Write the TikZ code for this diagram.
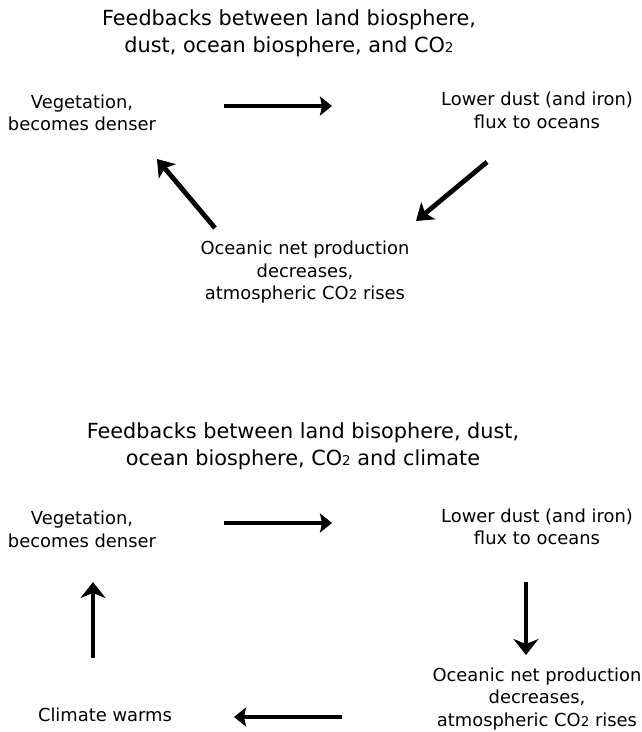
\documentclass[tikz,border=0pt]{standalone}
\usepackage{fontspec}
\setmainfont{DejaVu Sans}
\usetikzlibrary{arrows.meta}
\newcommand\cotwo{CO{\fontsize{13.5}{13.5}\selectfont 2}}
\tikzset{
  ttl/.style={align=center, inner sep=0pt, font=\fontsize{20.8}{27}\selectfont},
  lbl/.style={align=center, inner sep=0pt, font=\fontsize{17.9}{22.5}\selectfont},
  harr/.style={line width=4.8pt, -{Stealth[length=12pt,width=19pt,inset=2pt]}},
  darr/.style={line width=4.8pt, -{Stealth[length=16pt,width=22pt,inset=4pt]}},
  varr/.style={line width=4.8pt, -{Stealth[length=16pt,width=25pt,inset=5pt]}},
}
\begin{document}
\begin{tikzpicture}[x=1pt,y=-1pt]
\useasboundingbox (0,0) rectangle (641,732);
% top diagram
\node[ttl] (t1) at (289,33.5) {Feedbacks between land biosphere,\\dust, ocean biosphere, and \cotwo};
\node[lbl] (veg1) at (82,113) {Vegetation,\\becomes denser};
\node[lbl] (dust1) at (537,110.5) {Lower dust (and iron)\\flux to oceans};
\node[lbl] (oce1) at (305,272.5) {Oceanic net production\\decreases,\\atmospheric \cotwo\ rises};
\coordinate (a1s) at (224,106); \coordinate (a1e) at (332,106);
\coordinate (a2s) at (487,162); \coordinate (a2e) at (416,221);
\coordinate (a3s) at (215,228); \coordinate (a3e) at (157,159);
\draw[harr] (a1s) -- (a1e);
\draw[darr] (a2s) -- (a2e);
\draw[darr] (a3s) -- (a3e);
% bottom diagram
\node[ttl] (t2) at (303,446.5) {Feedbacks between land bisophere, dust,\\ocean biosphere, \cotwo\ and climate};
\node[lbl] (veg2) at (82,529.5) {Vegetation,\\becomes denser};
\node[lbl] (dust2) at (537,527) {Lower dust (and iron)\\flux to oceans};
\node[lbl] (oce2) at (537,699) {Oceanic net production\\decreases,\\atmospheric \cotwo\ rises};
\node[lbl] (clim) at (105,715) {Climate warms};
\coordinate (b1s) at (224,523); \coordinate (b1e) at (332,523);
\coordinate (b2s) at (526,582); \coordinate (b2e) at (526,655);
\coordinate (b3s) at (342,717); \coordinate (b3e) at (234,717);
\coordinate (b4s) at (93,658); \coordinate (b4e) at (93,582);
\draw[harr] (b1s) -- (b1e);
\draw[varr] (b2s) -- (b2e);
\draw[harr] (b3s) -- (b3e);
\draw[varr] (b4s) -- (b4e);
\end{tikzpicture}
\end{document}
